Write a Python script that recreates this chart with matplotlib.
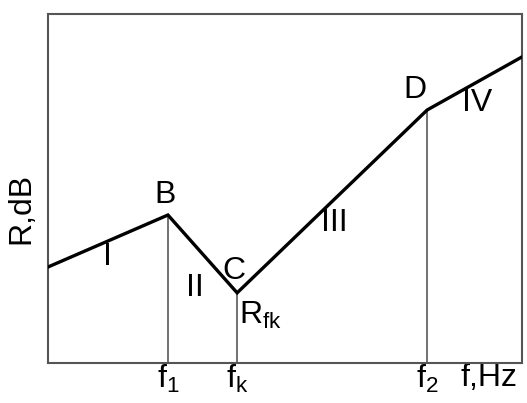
import matplotlib.pyplot as plt

plt.rcParams['font.family'] = ['Liberation Sans', 'DejaVu Sans']
plt.rcParams['mathtext.fontset'] = 'custom'
plt.rcParams['mathtext.rm'] = 'Liberation Sans'
plt.rcParams['mathtext.it'] = 'Liberation Sans'

# broken-line curve (relative units, 0..100)
x_pts = [0, 25.3, 39.9, 80.0, 100]
y_pts = [27.5, 42.4, 20.1, 72.5, 87.7]
pt_names = ['', 'B', 'C', 'D', '']

# region labels
reg_names = ['I', 'II', 'III', 'IV']
reg_x = [12.5, 31.0, 60.5, 90.5]
reg_y = [30.5, 21.5, 40.0, 74.5]

tick_pos = [25.3, 39.9, 80.0, 93.0]
tick_lbl = [r'$\mathregular{f_1}$', r'$\mathregular{f_k}$', r'$\mathregular{f_2}$', 'f,Hz']

fig = plt.figure(figsize=(5.27, 4.03), dpi=100)
ax = fig.add_axes([0.0911, 0.0993, 0.8994, 0.866])

ax.plot(x_pts, y_pts, color='black', lw=2.4, solid_joinstyle='miter', zorder=3)
for i in (1, 2, 3):
    ax.plot([x_pts[i], x_pts[i]], [0, y_pts[i]], color='#666666', lw=1.3, zorder=2)

fs = 23
ax.text(x_pts[1] - 0.5, y_pts[1] + 1.5, pt_names[1], fontsize=fs, ha='center', va='bottom')
ax.text(x_pts[2] - 0.6, y_pts[2] + 2.0, pt_names[2], fontsize=fs, ha='center', va='bottom')
ax.text(x_pts[3] - 2.5, y_pts[3] + 1.5, pt_names[3], fontsize=fs, ha='center', va='bottom')
for n, xx, yy in zip(reg_names, reg_x, reg_y):
    ax.text(xx, yy, n, fontsize=fs, ha='center', va='center')
ax.text(x_pts[2] + 0.4, 18.0, r'$\mathregular{R_{fk}}$', fontsize=fs, ha='left', va='top')

ax.set_xlim(0, 100)
ax.set_ylim(0, 100)
ax.set_xticks(tick_pos)
ax.set_xticklabels(tick_lbl, fontsize=fs)
ax.set_yticks([])
ax.tick_params(axis='x', length=0, pad=0)
ax.set_ylabel('R,dB', fontsize=fs)
ax.yaxis.set_label_coords(-0.024, 0.444)
for s in ax.spines.values():
    s.set_color('#555555')
    s.set_linewidth(1.5)

fig.savefig('out.png', dpi=100)
